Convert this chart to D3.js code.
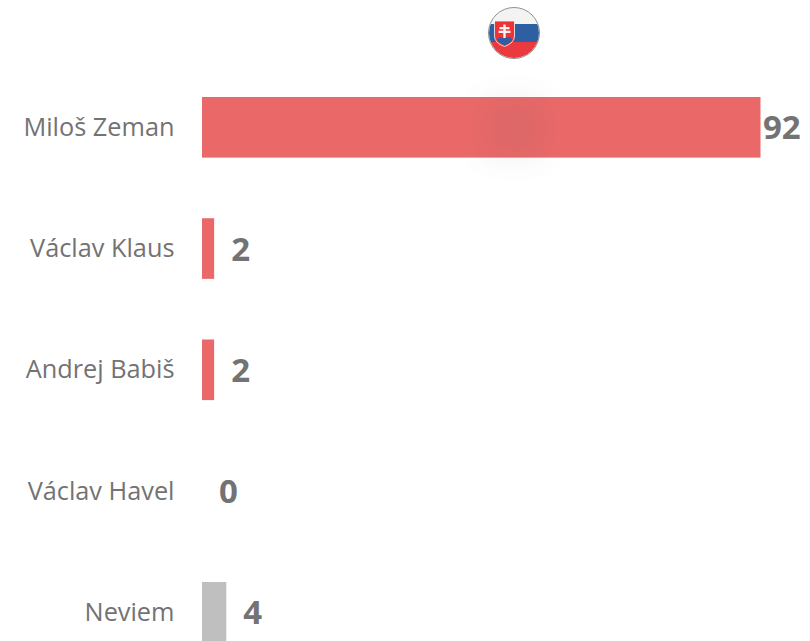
<!DOCTYPE html>
<html>
<head>
<meta charset="utf-8">
<script src="https://cdnjs.cloudflare.com/ajax/libs/d3/7.8.5/d3.min.js"></script>
<style>
    html, body { margin: 0; padding: 0; background: #fff; overflow: hidden; }
    text { font-family: 'Open Sans', sans-serif; }
</style>
</head>
<body>
<div class="vis-bars"></div>
<script>
const names = ['Miloš Zeman', 'Václav Klaus', 'Andrej Babiš', 'Václav Havel', 'Neviem'];
const values = [92, 2, 2, 0, 4];
const barColors = ['#eb6868', '#eb6868', '#eb6868', '#eb6868', '#bfbfbf'];

const width = 810;
const height = 641;

const svg = d3.select('.vis-bars')
    .append('svg')
    .attr('width', width)
    .attr('height', height)
    .style('display', 'block');

const x = d3.scaleLinear().domain([0, 92]).range([202, 760.5]);
const y = d3.scaleBand().domain(names).range([97, 642.6]).paddingInner(0.5);

const defs = svg.append('defs');
defs.append('filter').attr('id', 'soft')
    .attr('x', '-100%').attr('y', '-100%').attr('width', '300%').attr('height', '300%')
    .append('feGaussianBlur').attr('stdDeviation', 15);
defs.append('clipPath').attr('id', 'flag-clip')
    .append('circle').attr('cx', 514).attr('cy', 33).attr('r', 25);

// bars
svg.selectAll('rect.bar')
    .data(values)
    .enter()
    .append('rect')
    .attr('class', 'bar')
    .attr('x', x(0))
    .attr('y', (d, i) => y(names[i]))
    .attr('width', d => x(d) - x(0))
    .attr('height', y.bandwidth())
    .attr('fill', (d, i) => barColors[i]);

// names on the left
svg.selectAll('text.name')
    .data(names)
    .enter()
    .append('text')
    .attr('class', 'name')
    .attr('x', 174.5)
    .attr('y', d => y(d) + y.bandwidth() / 2 + 8.5)
    .attr('text-anchor', 'end')
    .attr('font-size', 25.3)
    .attr('fill', '#737373')
    .text(d => d);

// value labels
svg.selectAll('text.value')
    .data(values)
    .enter()
    .append('text')
    .attr('class', 'value')
    .attr('x', d => x(d) + (d > 50 ? 2.5 : 17))
    .attr('y', (d, i) => y(names[i]) + y.bandwidth() / 2 + 12)
    .attr('font-size', 33)
    .attr('font-weight', 700)
    .attr('fill', '#737373')
    .text(d => d);

// soft shadow that falls on the top bar
svg.append('rect')
    .attr('x', 484).attr('y', 100).attr('width', 60).attr('height', 56)
    .attr('fill', '#666')
    .attr('opacity', 0.1)
    .attr('filter', 'url(#soft)');

// round flag
const flag = svg.append('g');
const stripes = flag.append('g').attr('clip-path', 'url(#flag-clip)');
stripes.append('rect').attr('x', 489).attr('y', 7).attr('width', 50).attr('height', 17).attr('fill', '#f4f3f1');
stripes.append('rect').attr('x', 489).attr('y', 24).attr('width', 50).attr('height', 18).attr('fill', '#2f5fa3');
stripes.append('rect').attr('x', 489).attr('y', 42).attr('width', 50).attr('height', 17).attr('fill', '#ea3a3f');
flag.append('circle')
    .attr('cx', 514).attr('cy', 33).attr('r', 25.5)
    .attr('fill', 'none')
    .attr('stroke', '#8f8f8f')
    .attr('stroke-width', 1);
flag.append('path')
    .attr('d', 'M494.5,21 H514.5 V36 Q514.5,43 504.5,46.5 Q494.5,43 494.5,36 Z')
    .attr('fill', '#ee3338')
    .attr('stroke', '#f7f7f7')
    .attr('stroke-width', 0.8);
flag.append('path')
    .attr('d', 'M497,40 Q500,35 502,38 Q504.5,33 507.5,38 Q510,35 512.5,40 Q509,44 504.5,45.5 Q500,44 497,40 Z')
    .attr('fill', '#2f5fa3');
flag.append('path')
    .attr('d', 'M503.3,24.5 H505.7 V27 H509.5 V29.2 H505.7 V30.8 H510.5 V33 H505.7 V38 H503.3 V33 H498.5 V30.8 H503.3 V29.2 H499.5 V27 H503.3 Z')
    .attr('fill', '#f7f3f0');
</script>
</body>
</html>
